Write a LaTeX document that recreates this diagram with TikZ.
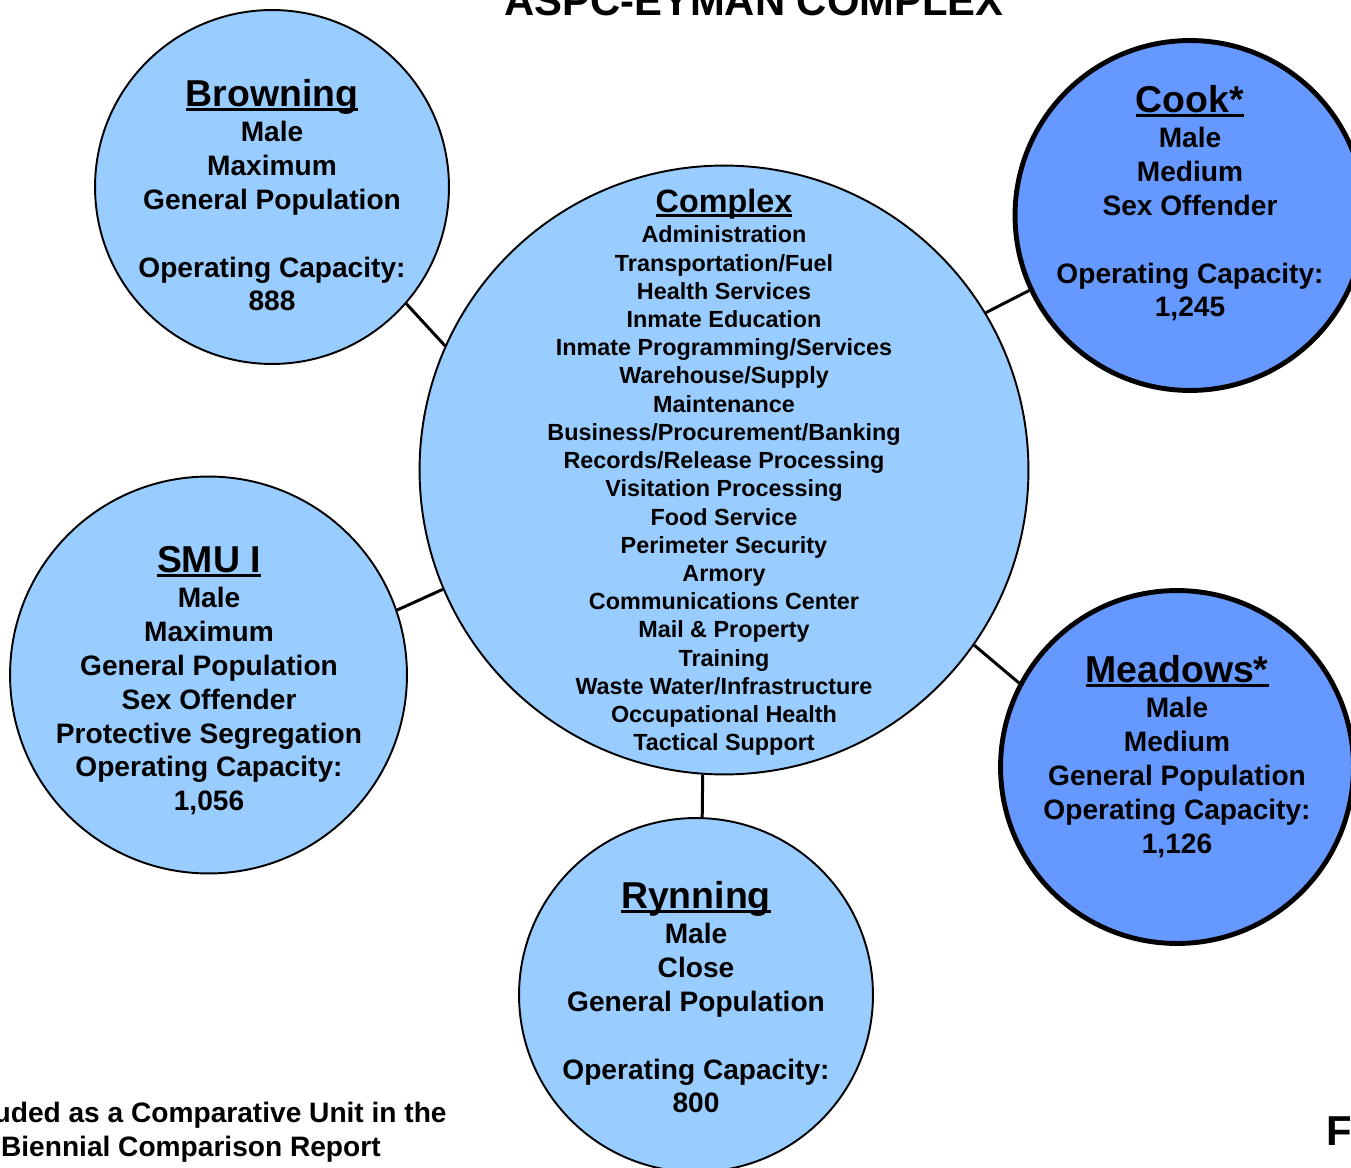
\documentclass[tikz,border=0pt]{standalone}
\usepackage{fontspec}
\setmainfont{Liberation Sans}
\definecolor{unitblue}{RGB}{153,204,255}
\definecolor{compblue}{RGB}{102,153,255}
\newsavebox{\namebox}
\newcommand{\ulname}[2]{{#1\sbox{\namebox}{#2}\rlap{\rule[-2.9pt]{\wd\namebox}{1.6pt}}\usebox{\namebox}}}
\newcommand{\unitname}[1]{\ulname{\fontsize{21.3}{25}\selectfont}{#1}}

\begin{document}
\begin{tikzpicture}[x=0.02cm,y=-0.02cm,
		unit/.style={circle,draw,line width=1.1pt,fill=unitblue,inner sep=0pt},
		cmpunit/.style={circle,draw,line width=2.8pt,fill=compblue,inner sep=0pt},
		info/.style={align=center,inner sep=0pt,anchor=north,font=\fontsize{16}{19.3}\selectfont\bfseries},
		note/.style={inner sep=0pt,anchor=base east,font=\fontsize{16}{19.3}\selectfont\bfseries},
		link/.style={line width=1.7pt}]
				\useasboundingbox (0,0) rectangle (1351,1168);
				\node[anchor=base,inner sep=0pt,font=\fontsize{23.8}{28}\selectfont\bfseries] (title) at (754,16) {ASPC-EYMAN COMPLEX};
				% circles
				\node[unit,minimum size=12.18cm] (complex) at (724,470) {};
				\node[unit,minimum size=7.08cm] (browning) at (272,187) {};
				\node[cmpunit,minimum size=7.0cm] (cook) at (1190,215.5) {};
				\node[unit,minimum size=7.94cm] (smu) at (208.5,675) {};
				\node[cmpunit,minimum size=7.06cm] (meadows) at (1177,767) {};
				\node[unit,minimum size=7.08cm] (rynning) at (696,995) {};
				% connectors
				\draw[link] (browning.-41.6) -- (complex.156);
				\draw[link] (complex.31) -- (cook.-155.5);
				\draw[link] (smu.19) -- (complex.203.5);
				\draw[link] (complex.-35.7) -- (meadows.152);
				\draw[link] (complex.-94) -- (rynning.88);
				% texts
				\node[info,font=\fontsize{13.3}{16.06}\selectfont\bfseries] (complextxt) at (724,188.4) {\ulname{\fontsize{18.4}{22}\selectfont}{Complex}\\[1.4pt]
					Administration\\ Transportation/Fuel\\ Health Services\\ Inmate Education\\
					Inmate Programming/Services\\ Warehouse/Supply\\ Maintenance\\
					Business/Procurement/Banking\\ Records/Release Processing\\ Visitation Processing\\
					Food Service\\ Perimeter Security\\ Armory\\ Communications Center\\
					Mail \& Property\\ Training\\ Waste Water/Infrastructure\\ Occupational Health\\ Tactical Support};
				\node[info] (browningtxt) at (272,78.6) {\unitname{Browning}\\[0.8pt] Male\\ Maximum\\ General Population\\[19.3pt] Operating Capacity:\\ 888};
				\node[info] (cooktxt) at (1190,84.6) {\unitname{Cook*}\\[0.8pt] Male\\ Medium\\ Sex Offender\\[19.3pt] Operating Capacity:\\ 1,245};
				\node[info] (smutxt) at (209,545.6) {\unitname{SMU I}\\[0.8pt] Male\\ Maximum\\ General Population\\ Sex Offender\\ Protective Segregation\\ Operating Capacity:\\ 1,056};
				\node[info] (meadowstxt) at (1177,654.6) {\unitname{Meadows*}\\[0.8pt] Male\\ Medium\\ General Population\\ Operating Capacity:\\ 1,126};
				\node[info] (rynningtxt) at (696,880.6) {\unitname{Rynning}\\[0.8pt] Male\\ Close\\ General Population\\[19.3pt] Operating Capacity:\\ 800};
				% footnote
				\node[note] (note1) at (447,1122) {uded as a Comparative Unit in the};
				\node[note] (note2) at (381,1156) {Biennial Comparison Report};
				\node[anchor=base west,inner sep=0pt,font=\fontsize{23.8}{28}\selectfont\bfseries] (fy) at (1326,1145) {F};
			\end{tikzpicture}
\end{document}
